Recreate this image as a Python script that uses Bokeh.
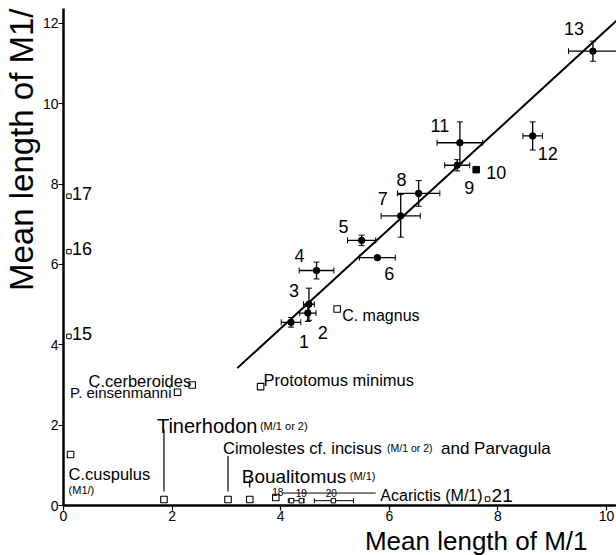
import math
from bokeh.plotting import figure
from bokeh.models import ColumnDataSource, Whisker, TeeHead, Title, FixedTicker
from bokeh.core.properties import value
from bokeh.embed import file_html
from bokeh.resources import INLINE

FONT = "Liberation Sans"

# ---------------- data ----------------
x_ticks = [0, 2, 4, 6, 8, 10]
y_ticks = [0, 2, 4, 6, 8, 10, 12]

# numbered samples (filled symbols, with error bars)
num_ids = ["1", "2", "3", "4", "5", "6", "7", "8", "9", "10", "11", "12", "13"]
num_x = [4.19, 4.50, 4.52, 4.66, 5.49, 5.78, 6.21, 6.54, 7.25, 7.60, 7.30, 8.64, 9.75]
num_y = [4.56, 4.79, 5.01, 5.85, 6.60, 6.17, 7.21, 7.77, 8.47, 8.36, 9.03, 9.20, 11.31]
num_xerr = [0.18, 0.15, 0.10, 0.32, 0.26, 0.33, 0.36, 0.39, 0.23, 0.0, 0.42, 0.18, 0.45]
num_yerr = [0.12, 0.21, 0.40, 0.21, 0.13, 0.04, 0.53, 0.32, 0.14, 0.0, 0.52, 0.35, 0.25]
num_marker = ["circle"] * 9 + ["square"] + ["circle"] * 3

# regression line end points
reg_x = [3.20, 10.25]
reg_y = [3.42, 12.15]

# upper-only samples on the y axis
side_ids = ["15", "16", "17"]
side_x = [0.10, 0.10, 0.10]
side_y = [4.21, 6.32, 7.70]

# named taxa (open squares)
taxa_names = ["C. magnus", "Prototomus minimus", "C.cerberoides", "P. einsenmanni",
              "C.cuspulus", "Tinerhodon", "Cimolestes", "Boualitomus", "18"]
taxa_x = [5.04, 3.63, 2.37, 2.10, 0.13, 1.85, 3.03, 3.43, 3.91]
taxa_y = [4.89, 2.96, 3.00, 2.82, 1.27, 0.15, 0.15, 0.15, 0.20]

# Acarictis small samples
acar_ids = ["19", "19", "20", "21"]
acar_x = [4.20, 4.38, 4.97, 7.81]
acar_y = [0.12, 0.12, 0.12, 0.16]
acar_range_lo = [4.14, 4.62]
acar_range_hi = [4.43, 5.34]
acar_range_y = [0.12, 0.12]

# ---------------- layout / style ----------------
num_dx = [13, 15, -15, -17, -18, 12, -18, -17, 12, 20, -20, 15, -19]
num_dy = [19, 19, -14, -15, -14, 16, -17, -14, 22, 3, -17, 18, -23]

p = figure(width=616, height=555, output_backend="svg", toolbar_location=None,
           title=None, x_range=(0, 553 / 54.3), y_range=(0, 498 / 40.25),
           min_border_left=0, min_border_right=0, min_border_top=8,
           min_border_bottom=0)
p.background_fill_color = "white"
p.border_fill_color = "white"
p.outline_line_color = None
p.xgrid.grid_line_color = None
p.ygrid.grid_line_color = None

for ax, ticks in ((p.xaxis, x_ticks), (p.yaxis, y_ticks)):
    ax.ticker = FixedTicker(ticks=ticks)
    ax.axis_line_width = 2.5
    ax.axis_line_color = "black"
    ax.major_tick_line_width = 1.2
    ax.major_tick_out = 5
    ax.major_tick_in = 0
    ax.minor_tick_line_color = None
    ax.major_label_text_font = FONT
    ax.major_label_text_font_size = "14px"
    ax.major_label_text_color = "black"
    ax.major_label_standoff = 0

# axis titles
p.add_layout(Title(text="Mean length of M1/", align="right", text_font=FONT,
                   text_font_size="33px", text_font_style="normal", standoff=0,
                   offset=0, text_color="black"), "left")
p.add_layout(Title(text="Mean length of M/1", align="right", text_font=FONT,
                   text_font_size="26px", text_font_style="normal", standoff=0,
                   offset=29, text_color="black"), "below")

# regression line
p.line(reg_x, reg_y, line_color="black", line_width=2)


def text(xs, ys, labels, size, align="center", baseline="middle", dx=0, dy=0):
    src = ColumnDataSource(dict(x=xs, y=ys, t=labels,
                                dx=dx if isinstance(dx, list) else [dx] * len(xs),
                                dy=dy if isinstance(dy, list) else [dy] * len(xs)))
    p.text(x="x", y="y", text="t", x_offset="dx", y_offset="dy", source=src,
           text_font=value(FONT), text_font_size=size, text_align=align,
           text_baseline=baseline, text_color="black")


# error bars for numbered samples
idx = [i for i in range(len(num_x)) if num_xerr[i] > 0]
err_src = ColumnDataSource(dict(
    x=[num_x[i] for i in idx], y=[num_y[i] for i in idx],
    xlo=[num_x[i] - num_xerr[i] for i in idx], xhi=[num_x[i] + num_xerr[i] for i in idx],
    ylo=[num_y[i] - num_yerr[i] for i in idx], yhi=[num_y[i] + num_yerr[i] for i in idx]))
p.add_layout(Whisker(source=err_src, base="y", lower="xlo", upper="xhi", dimension="width",
                     line_width=1.3, line_color="black",
                     lower_head=TeeHead(size=6, line_width=1),
                     upper_head=TeeHead(size=6, line_width=1)))
p.add_layout(Whisker(source=err_src, base="x", lower="ylo", upper="yhi", dimension="height",
                     line_width=1.3, line_color="black",
                     lower_head=TeeHead(size=6, line_width=1),
                     upper_head=TeeHead(size=6, line_width=1)))

num_src = ColumnDataSource(dict(x=num_x, y=num_y, m=num_marker))
p.scatter(x="x", y="y", marker="m", source=num_src, size=6.5, fill_color="black",
          line_color="black")
text(num_x, num_y, num_ids, "18px", dx=num_dx, dy=num_dy)

# samples on the y axis
p.scatter(side_x, side_y, marker="square", size=4.5, fill_color="white",
          line_color="black", line_width=1)
text(side_x, side_y, side_ids, "18px", align="left", baseline="alphabetic", dx=3, dy=-3)

# leader lines for Tinerhodon, Cimolestes, Boualitomus
lead_x = [taxa_x[5], taxa_x[6], taxa_x[7]]
lead_bottom = [taxa_y[5] + 0.2, taxa_y[6] + 0.2, taxa_y[7] + 0.3]
lead_top = [1.89, 1.23, 0.65]
p.segment(x0=lead_x, y0=lead_bottom, x1=lead_x, y1=lead_top, line_color="black",
          line_width=1.2)

# Acarictis underline leader
p.segment(x0=[4.03], y0=[0.31], x1=[5.75], y1=[0.31], line_color="black", line_width=1)

# Acarictis ranges
rng_src = ColumnDataSource(dict(y=acar_range_y, lo=acar_range_lo, hi=acar_range_hi))
p.add_layout(Whisker(source=rng_src, base="y", lower="lo", upper="hi", dimension="width",
                     line_width=1, line_color="black",
                     lower_head=TeeHead(size=5, line_width=1),
                     upper_head=TeeHead(size=5, line_width=1)))

# open squares
p.scatter(taxa_x, taxa_y, marker="square", size=6.5, fill_color="white",
          line_color="black", line_width=1.1)
p.scatter(acar_x, acar_y, marker="square", size=4.5, fill_color="white",
          line_color="black", line_width=1)

# taxa labels
text([taxa_x[0]], [taxa_y[0]], ["C. magnus"], "16px", "left", "alphabetic", 5, 6)
text([taxa_x[1]], [taxa_y[1]], ["Prototomus minimus"], "16.5px", "left", "alphabetic", 3, -7)
text([taxa_x[2]], [taxa_y[2]], ["C.cerberoides"], "16.5px", "right", "alphabetic", -1, -4)
text([taxa_x[3]], [taxa_y[3]], ["P. einsenmanni"], "15px", "right", "alphabetic", -6, 0)
text([taxa_x[4]], [taxa_y[4]], ["C.cuspulus"], "16.5px", "left", "alphabetic", -2, 20)
text([taxa_x[4]], [taxa_y[4]], ["(M1/)"], "11px", "left", "alphabetic", -2, 36)
text([taxa_x[5]], [taxa_y[5]], ["Tinerhodon"], "20px", "left", "alphabetic", -7, -73)
text([taxa_x[5]], [taxa_y[5]], ["(M/1 or 2)"], "11px", "left", "alphabetic", 96, -73)
text([taxa_x[6]], [taxa_y[6]], ["Cimolestes cf. incisus"], "16.5px", "left", "alphabetic", -5, -51)
text([taxa_x[6]], [taxa_y[6]], ["(M/1 or 2)"], "10.5px", "left", "alphabetic", 159, -51)
text([taxa_x[6]], [taxa_y[6]], ["and Parvagula"], "17px", "left", "alphabetic", 213, -51)
text([taxa_x[7]], [taxa_y[7]], ["Boualitomus"], "19px", "left", "alphabetic", -8, -23)
text([taxa_x[7]], [taxa_y[7]], ["(M/1)"], "11px", "left", "alphabetic", 100, -23)
text([taxa_x[8]], [taxa_y[8]], ["18"], "10px", "center", "alphabetic", 2, -5)
text([acar_x[1], acar_x[2]], [acar_y[1], acar_y[2]], ["19", "20"], "10px", "center",
     "alphabetic", [0, -2], [-8, -8])
text([acar_x[3]], [acar_y[3]], ["Acarictis (M/1)"], "16px", "right", "alphabetic", -5, -4)
text([acar_x[3]], [acar_y[3]], ["21"], "19px", "left", "alphabetic", 4, -4)

open("out.html", "w").write(file_html(p, INLINE))
